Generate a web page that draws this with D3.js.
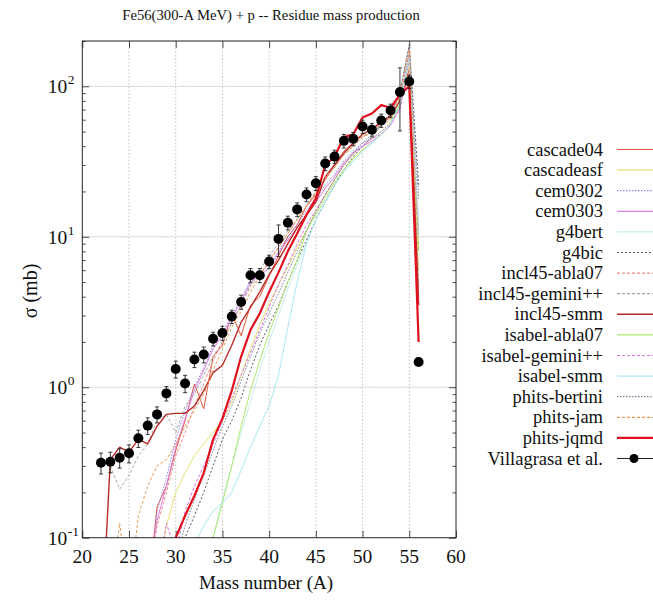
<!DOCTYPE html>
<html>
<head>
<meta charset="utf-8">
<script src="https://cdn.jsdelivr.net/npm/d3@7"></script>
<style>
  body { margin: 0; background: #fff; }
  svg { display: block; }
  text { font-family: "Liberation Serif", "DejaVu Serif", serif; fill: #111; }
</style>
</head>
<body>
<svg id="chart" width="653" height="601"></svg>
<script>
// Residue mass production cross sections (mb) vs mass number A.
// Each model array starts at the mass number given by its "From" constant.
const cascade04From = 27;
const cascade04 = [0.04,0.16,0.22,0.38,0.6,1.05,0.72,1.6,1.9,3.1,2.2,3.5,4.0,5.5,7.5,10,12,16,19,24,30,37,42,48,52,57,62,80,130,4];
const cascadeasfFrom = 28;
const cascadeasf = [0.05,0.12,0.2,0.27,0.35,0.42,0.5,0.6,0.8,1.2,1.8,2.6,3.6,4.8,6.3,8.5,11,15,19,24,30,35,40,45,50,58,80,140,6];
const cem0302From = 27;
const cem0302 = [0.04,0.15,0.25,0.45,0.7,1.0,1.35,1.9,2.3,3.0,3.8,5.2,5.8,6.5,8,10,12,15,18,22,26,32,37,42,45,50,57,75,170,12];
const cem0303From = 27;
const cem0303 = [0.05,0.13,0.22,0.4,0.62,0.95,1.3,1.8,2.2,2.9,3.7,5.0,5.5,6.2,7.8,9.5,11.5,14,17,21,25,31,36,40,43,48,55,72,160,11];
const g4bertFrom = 33;
const g4bert = [0.05,0.1,0.18,0.3,0.5,0.8,1.3,2.0,3.0,4.5,6.5,9,13,17,22,27,32,37,42,48,56,75,150,12];
const g4bicFrom = 30;
const g4bic = [0.05,0.1,0.14,0.2,0.3,0.45,0.6,0.85,1.3,1.9,2.6,3.5,5.0,7,9.5,13,17,22,28,34,40,46,55,65,90,190,22];
const incl45abla07From = 27;
const incl45abla07 = [0.05,0.12,0.2,0.35,0.5,0.75,1.05,1.5,2.0,2.7,3.5,4.7,5.5,6.8,8.5,10.5,13,16,19.5,24,29,35,40,46,50,56,64,88,180,4];
const incl45geminiFrom = 23;
const incl45gemini = [0.3,0.21,0.26,0.35,0.42,0.6,0.66,0.5,0.75,0.9,1.2,1.6,2.0,2.7,3.5,4.8,6.0,7.5,9.0,11,13,16,20,25,30,36,41,47,50,56,62,82,160,5];
const incl45smmFrom = 22;
const incl45smm = [0.02,0.33,0.40,0.37,0.45,0.42,0.55,0.66,0.67,0.67,0.75,0.95,1.25,1.4,1.9,2.7,3.4,4.3,5.6,7.0,9.0,11.5,14,17,25,30,36,42,48,52,58,64,80,120,3.5];
const isabelabla07From = 33;
const isabelabla07 = [0.05,0.1,0.17,0.3,0.55,0.95,1.5,2.3,3.4,5,7,11,14,18,23,28,33,38,42,48,56,75,150,8];
const isabelgeminiFrom = 28;
const isabelgemini = [0.05,0.125,0.08,0.15,0.22,0.3,0.42,0.6,0.85,1.2,1.7,2.4,3.4,4.8,6.5,9,12,15,19,24,30,36,40,45,48,56,70,150,10];
const isabelsmmFrom = 30;
const isabelsmm = [0.05,0.07,0.09,0.12,0.15,0.17,0.2,0.28,0.4,0.55,0.75,1.2,2.5,5,9,13,17,22,27,32,37,42,48,56,78,155,10];
const phitsbertiniFrom = 30;
const phitsbertini = [0.07,0.12,0.18,0.26,0.38,0.55,0.75,1.1,1.6,2.3,3.1,4.2,5.8,8,11,14.5,19,24,30,36,42,48,56,66,92,185,18];
const phitsjamFrom = 23;
const phitsjam = [0.04,0.125,0.04,0.14,0.22,0.3,0.33,0.42,0.55,0.7,0.9,1.3,1.8,2.5,3.2,4.3,5.5,7,8.5,10.5,13,16,20,25,29,35,40,46,49,55,60,85,175,8];
const phitsjqmdFrom = 29;
const phitsjqmd = [0.05,0.1,0.14,0.19,0.27,0.45,0.62,0.95,1.6,2.4,3.1,4.3,5.8,8.0,10.5,14,18,30,34,46,48,62,66,75,72,88,100,2.0];

// Measured data (Villagrasa et al.)
const expMass = d3.range(22, 57);
const expValue = [0.315,0.32,0.34,0.364,0.458,0.556,0.66,0.91,1.32,1.06,1.53,1.65,2.1,2.29,2.95,3.69,5.55,5.55,6.84,9.68,12.4,15.2,19.1,22.7,30.7,34.1,43.4,44.8,54.1,51.4,59.3,69.1,91.5,107.7,1.47];
const expError = [0.05,0.05,0.05,0.05,0.06,0.07,0.08,0.1,0.17,0.14,0.18,0.2,0.22,0.25,0.3,0.4,0.6,0.6,0.7,2.3,1.3,1.6,2.0,2.4,3.2,3.5,4.5,4.6,5.5,5.3,6,7,41,11,0];

// Axis ticks
const xTicks = [20, 25, 30, 35, 40, 45, 50, 55, 60];
const yDecades = [0.1, 1, 10, 100];
const yDecadeExp = ["-1", "0", "1", "2"];

const titleText = "Fe56(300-A MeV) + p -- Residue mass production";

const models = [
  { name: "cascade04",       from: cascade04From,      values: cascade04,      color: "#e0553a", width: 1,   dash: null },
  { name: "cascadeasf",      from: cascadeasfFrom,     values: cascadeasf,     color: "#e6e070", width: 1,   dash: null },
  { name: "cem0302",         from: cem0302From,        values: cem0302,        color: "#8a84e6", width: 1,   dash: "1.5,1.5" },
  { name: "cem0303",         from: cem0303From,        values: cem0303,        color: "#dc80e4", width: 1,   dash: null },
  { name: "g4bert",          from: g4bertFrom,         values: g4bert,         color: "#c6eef0", width: 1,   dash: null },
  { name: "g4bic",           from: g4bicFrom,          values: g4bic,          color: "#5a5a6e", width: 1,   dash: "2,2" },
  { name: "incl45-abla07",   from: incl45abla07From,   values: incl45abla07,   color: "#f08a84", width: 1,   dash: "3,2" },
  { name: "incl45-gemini++", from: incl45geminiFrom,   values: incl45gemini,   color: "#a8a8a8", width: 1,   dash: "3,2" },
  { name: "incl45-smm",      from: incl45smmFrom,      values: incl45smm,      color: "#b82a26", width: 1.4, dash: null },
  { name: "isabel-abla07",   from: isabelabla07From,   values: isabelabla07,   color: "#acea6c", width: 1,   dash: null },
  { name: "isabel-gemini++", from: isabelgeminiFrom,   values: isabelgemini,   color: "#e070e6", width: 1,   dash: "3,2" },
  { name: "isabel-smm",      from: isabelsmmFrom,      values: isabelsmm,      color: "#ace8f0", width: 1,   dash: null },
  { name: "phits-bertini",   from: phitsbertiniFrom,   values: phitsbertini,   color: "#76869a", width: 1,   dash: "1.5,1.5" },
  { name: "phits-jam",       from: phitsjamFrom,       values: phitsjam,       color: "#e49a56", width: 1,   dash: "3,2" },
  { name: "phits-jqmd",      from: phitsjqmdFrom,      values: phitsjqmd,      color: "#e0101e", width: 2.2, dash: null }
];

const svg = d3.select("#chart");
const plot = { left: 82.3, right: 456, top: 41, bottom: 537.7 };

const x = d3.scaleLinear().domain([20, 60]).range([plot.left, plot.right]);
const y = d3.scaleLog().domain([0.1, 200]).range([plot.bottom, plot.top]);

svg.append("defs").append("clipPath").attr("id", "plotClip")
  .append("rect")
  .attr("x", plot.left).attr("y", plot.top)
  .attr("width", plot.right - plot.left).attr("height", plot.bottom - plot.top);

// Grid
const grid = svg.append("g").attr("stroke", "#b4b4b4").attr("stroke-width", 0.8);
grid.selectAll("line.gx").data(xTicks.slice(1, -1)).join("line")
  .attr("x1", d => x(d)).attr("x2", d => x(d))
  .attr("y1", plot.top).attr("y2", plot.bottom)
  .attr("stroke-dasharray", "1.5,2");
grid.selectAll("line.gy").data(yDecades.slice(1)).join("line")
  .attr("x1", plot.left).attr("x2", plot.right)
  .attr("y1", d => y(d)).attr("y2", d => y(d))
  .attr("stroke-dasharray", "1.5,1");

// Minor log ticks
const minorTicks = [];
[0.1, 1, 10, 100].forEach(dec => d3.range(2, 10).forEach(k => { if (dec * k <= 200) minorTicks.push(dec * k); }));

// Axes (ticks point inward, mirrored on the opposite side)
const noLabel = () => "";
svg.append("g").attr("transform", `translate(0,${plot.bottom})`)
  .call(d3.axisBottom(x).tickValues(xTicks).tickSize(-7).tickFormat(noLabel));
svg.append("g").attr("transform", `translate(0,${plot.top})`)
  .call(d3.axisTop(x).tickValues(xTicks).tickSize(-7).tickFormat(noLabel));
svg.append("g").attr("transform", `translate(${plot.left},0)`)
  .call(d3.axisLeft(y).tickValues(yDecades).tickSize(-7).tickFormat(noLabel));
svg.append("g").attr("transform", `translate(${plot.right},0)`)
  .call(d3.axisRight(y).tickValues(yDecades).tickSize(-7).tickFormat(noLabel));
svg.append("g").attr("transform", `translate(${plot.left},0)`)
  .call(d3.axisLeft(y).tickValues(minorTicks).tickSize(-3.5).tickFormat(noLabel));
svg.append("g").attr("transform", `translate(${plot.right},0)`)
  .call(d3.axisRight(y).tickValues(minorTicks).tickSize(-3.5).tickFormat(noLabel));
svg.selectAll(".domain").attr("stroke", "none");
svg.selectAll(".tick line").attr("stroke", "#222").attr("stroke-width", 0.8);

// Model curves
const line = d3.line()
  .defined(d => d.v != null)
  .x(d => x(d.A))
  .y(d => y(d.v));

const curves = svg.append("g").attr("clip-path", "url(#plotClip)");
models.forEach(m => {
  const pts = m.values.map((v, i) => ({ A: m.from + i, v }));
  curves.append("path")
    .datum(pts)
    .attr("d", line)
    .attr("fill", "none")
    .attr("stroke", m.color)
    .attr("stroke-width", m.width)
    .attr("stroke-linejoin", "round")
    .attr("stroke-dasharray", m.dash);
});

// Measured points with error bars
const exp = expMass.map((A, i) => ({ A, v: expValue[i], e: expError[i] }));
const expG = svg.append("g").attr("clip-path", "url(#plotClip)");
const eb = expG.selectAll("g.eb").data(exp.filter(d => d.e > 0)).join("g")
  .attr("stroke", "#222").attr("stroke-width", 0.9);
eb.append("line")
  .attr("x1", d => x(d.A)).attr("x2", d => x(d.A))
  .attr("y1", d => y(d.v + d.e)).attr("y2", d => y(Math.max(d.v - d.e, 0.1)));
eb.append("line")
  .attr("x1", d => x(d.A) - 2).attr("x2", d => x(d.A) + 2)
  .attr("y1", d => y(d.v + d.e)).attr("y2", d => y(d.v + d.e));
eb.append("line")
  .attr("x1", d => x(d.A) - 2).attr("x2", d => x(d.A) + 2)
  .attr("y1", d => y(d.v - d.e)).attr("y2", d => y(d.v - d.e));
expG.selectAll("circle").data(exp).join("circle")
  .attr("cx", d => x(d.A)).attr("cy", d => y(d.v)).attr("r", 5)
  .attr("fill", "#000");

// Frame
svg.append("rect")
  .attr("x", plot.left).attr("y", plot.top)
  .attr("width", plot.right - plot.left).attr("height", plot.bottom - plot.top)
  .attr("fill", "none").attr("stroke", "#222").attr("stroke-width", 1);

// Tick labels
svg.append("g").selectAll("text").data(xTicks).join("text")
  .attr("x", d => x(d)).attr("y", plot.bottom + 25)
  .attr("text-anchor", "middle")
  .attr("font-size", 19.5)
  .text(d => d);

svg.append("g").selectAll("text").data(yDecades).join("text")
  .attr("x", plot.left - 15).attr("y", d => y(d) + 7)
  .attr("text-anchor", "end")
  .attr("font-size", 19.5)
  .text("10");
svg.append("g").selectAll("text").data(yDecades).join("text")
  .attr("x", plot.left - 14.5).attr("y", d => y(d) - 2)
  .attr("text-anchor", "start")
  .attr("font-size", 13.5)
  .text((d, i) => yDecadeExp[i]);

// Titles
svg.append("text").attr("x", 271).attr("y", 20)
  .attr("text-anchor", "middle").attr("font-size", 14.7)
  .text(titleText);
svg.append("text").attr("x", 266).attr("y", 589)
  .attr("text-anchor", "middle").attr("font-size", 19)
  .text("Mass number (A)");
svg.append("text")
  .attr("transform", "translate(37,291) rotate(-90)")
  .attr("text-anchor", "middle").attr("font-size", 20)
  .text("σ (mb)");

// Legend
const legendRows = models.map(m => ({ name: m.name, color: m.color, width: m.width, dash: m.dash, exp: false }))
  .concat([{ name: "Villagrasa et al.", color: "#222", width: 1, dash: null, exp: true }]);
const lg = svg.append("g");
const row = lg.selectAll("g").data(legendRows).join("g")
  .attr("transform", (d, i) => `translate(0,${149.5 + i * 20.6})`);
row.append("text")
  .attr("x", 603).attr("y", 6)
  .attr("text-anchor", "end").attr("font-size", 18.5)
  .text(d => d.name);
row.append("line")
  .attr("x1", 617).attr("x2", 653).attr("y1", 0).attr("y2", 0)
  .attr("stroke", d => d.color)
  .attr("stroke-width", d => Math.max(d.width, 1.2))
  .attr("stroke-dasharray", d => d.dash);
row.filter(d => d.exp).append("circle")
  .attr("cx", 634).attr("cy", 0).attr("r", 4.5).attr("fill", "#000");
</script>
</body>
</html>
